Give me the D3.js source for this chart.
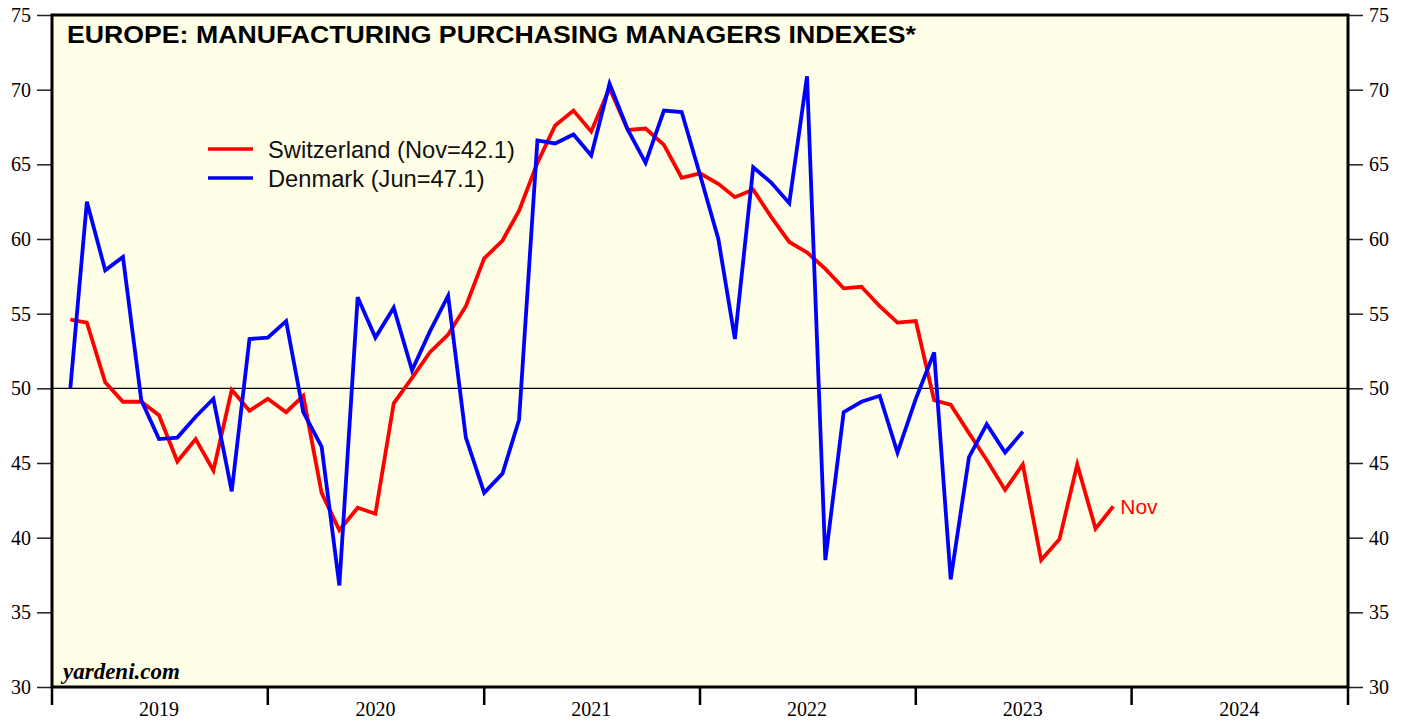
<!DOCTYPE html>
<html>
<head>
<meta charset="utf-8">
<script src="https://cdn.jsdelivr.net/npm/d3@7"></script>
<style>
  body { margin: 0; background: #fff; }
  svg { display: block; }
</style>
</head>
<body>
<div id="graph"></div>
<script>
// Monthly PMI readings, Jan 2019 onward
const switzerland = [
	54.6, 54.4, 50.4, 49.1, 49.1, 48.2, 45.1, 46.6, 44.5, 49.9, 48.5, 49.3,
	48.4, 49.5, 43.0, 40.5, 42.0, 41.6, 49.0, 50.7, 52.4, 53.6, 55.5, 58.7,
	59.9, 61.9, 65.1, 67.6, 68.6, 67.2, 70.1, 67.3, 67.4, 66.3, 64.1, 64.4,
	63.7, 62.8, 63.3, 61.5, 59.8, 59.1, 58.0, 56.7, 56.8, 55.5, 54.4, 54.5,
	49.2, 48.9, 47.0, 45.2, 43.2, 44.9, 38.5, 39.9, 44.9, 40.6, 42.1
];
const denmark = [
	50.0, 62.5, 57.9, 58.8, 49.2, 46.6, 46.7, 48.1, 49.3, 43.1, 53.3, 53.4,
	54.5, 48.4, 46.1, 36.8, 56.1, 53.4, 55.4, 51.2, 53.8, 56.2, 46.7, 43.0,
	44.3, 47.9, 66.6, 66.4, 67.0, 65.6, 70.4, 67.3, 65.1, 68.6, 68.5, 64.3,
	60.0, 53.3, 64.8, 63.8, 62.4, 70.9, 38.5, 48.4, 49.1, 49.5, 45.7, 49.3,
	52.4, 37.2, 45.4, 47.6, 45.7, 47.1
];
const years = [2019, 2020, 2021, 2022, 2023, 2024];
const yTicks = [30, 35, 40, 45, 50, 55, 60, 65, 70, 75];
const seriesNames = ['Switzerland (Nov=42.1)', 'Denmark (Jun=47.1)'];
const colors = ['#ff0000', '#0000ff'];

const W = 1407, H = 721;
const plot = { left: 52, right: 1348, top: 15, bottom: 687 };

const svg = d3.select('#graph').append('svg')
	.attr('width', W)
	.attr('height', H);

// each month is plotted at its end
const monthDate = (i) => new Date(2019, i + 1, 1);

const x = d3.scaleTime()
	.domain([new Date(2019, 0, 1), new Date(2025, 0, 1)])
	.range([plot.left, plot.right]);
const y = d3.scaleLinear().domain([30, 75]).range([plot.bottom, plot.top]);

// Plot background
svg.append('rect')
	.attr('x', plot.left).attr('y', plot.top)
	.attr('width', plot.right - plot.left).attr('height', plot.bottom - plot.top)
	.attr('fill', '#fffee6');

// Reference line at 50
svg.append('line')
	.attr('x1', plot.left).attr('x2', plot.right)
	.attr('y1', y(50)).attr('y2', y(50))
	.attr('stroke', '#000').attr('stroke-width', 1.2);

// Y axes, both sides
const yl = svg.append('g')
	.attr('transform', `translate(${plot.left},0)`)
	.call(d3.axisLeft(y).tickValues(yTicks).tickSize(15).tickPadding(6));
const yr = svg.append('g')
	.attr('transform', `translate(${plot.right},0)`)
	.call(d3.axisRight(y).tickValues(yTicks).tickSize(15).tickPadding(6));
[yl, yr].forEach((g) => {
	g.select('.domain').remove();
	g.selectAll('.tick line').attr('stroke', '#222').attr('stroke-width', 1.5);
	g.selectAll('.tick text')
		.attr('font-family', '"Liberation Serif", "Times New Roman", serif')
		.attr('font-size', 20)
		.attr('fill', '#000');
});

// X axis: year boundaries as ticks, labels centred in each year
const yearDates = years.map((v) => new Date(v, 0, 1)).concat([new Date(2025, 0, 1)]);
svg.append('g')
	.selectAll('line')
	.data(yearDates)
	.join('line')
	.attr('x1', (d) => x(d)).attr('x2', (d) => x(d))
	.attr('y1', plot.bottom).attr('y2', plot.bottom + 18)
	.attr('stroke', '#000').attr('stroke-width', 2.5);
svg.append('g')
	.selectAll('text')
	.data(years)
	.join('text')
	.attr('x', (d) => x(new Date(d, 6, 1)))
	.attr('y', 716)
	.attr('text-anchor', 'middle')
	.attr('font-family', '"Liberation Serif", "Times New Roman", serif')
	.attr('font-size', 20)
	.text((d) => d);

// Lines
const line = d3.line()
	.x((d, i) => x(monthDate(i)))
	.y((d) => y(d));

[switzerland, denmark].forEach((s, k) => {
	svg.append('path')
		.datum(s)
		.attr('fill', 'none')
		.attr('stroke', colors[k])
		.attr('stroke-width', 3.8)
		.attr('d', line);
});

// Frame
svg.append('rect')
	.attr('x', plot.left).attr('y', plot.top)
	.attr('width', plot.right - plot.left).attr('height', plot.bottom - plot.top)
	.attr('fill', 'none')
	.attr('stroke', '#000').attr('stroke-width', 3);

// Title (stretched wide like the original)
svg.append('text')
	.attr('x', 67).attr('y', 43)
	.attr('font-family', '"Liberation Sans", Arial, sans-serif')
	.attr('font-weight', 'bold')
	.attr('font-size', 23)
	.attr('textLength', 849)
	.attr('lengthAdjust', 'spacingAndGlyphs')
	.text('EUROPE: MANUFACTURING PURCHASING MANAGERS INDEXES*');

// Legend
const legend = svg.append('g');
seriesNames.forEach((name, k) => {
	legend.append('line')
		.attr('x1', 208).attr('x2', 253)
		.attr('y1', 149 + k * 29).attr('y2', 149 + k * 29)
		.attr('stroke', colors[k]).attr('stroke-width', 3.5);
	legend.append('text')
		.attr('x', 268).attr('y', 158 + k * 29)
		.attr('font-family', '"Liberation Sans", Arial, sans-serif')
		.attr('font-size', 23.7)
		.attr('fill', '#111')
		.text(name);
});

// End label
svg.append('text')
	.attr('x', x(monthDate(switzerland.length - 1)) + 7)
	.attr('y', y(switzerland[switzerland.length - 1]) + 8)
	.attr('font-family', '"Liberation Sans", Arial, sans-serif')
	.attr('font-size', 21)
	.attr('fill', colors[0])
	.text('Nov');

// Source
svg.append('text')
	.attr('x', 63).attr('y', 679)
	.attr('font-family', '"Liberation Serif", "Times New Roman", serif')
	.attr('font-weight', 'bold')
	.attr('font-style', 'italic')
	.attr('font-size', 23)
	.text('yardeni.com');
</script>
</body>
</html>
